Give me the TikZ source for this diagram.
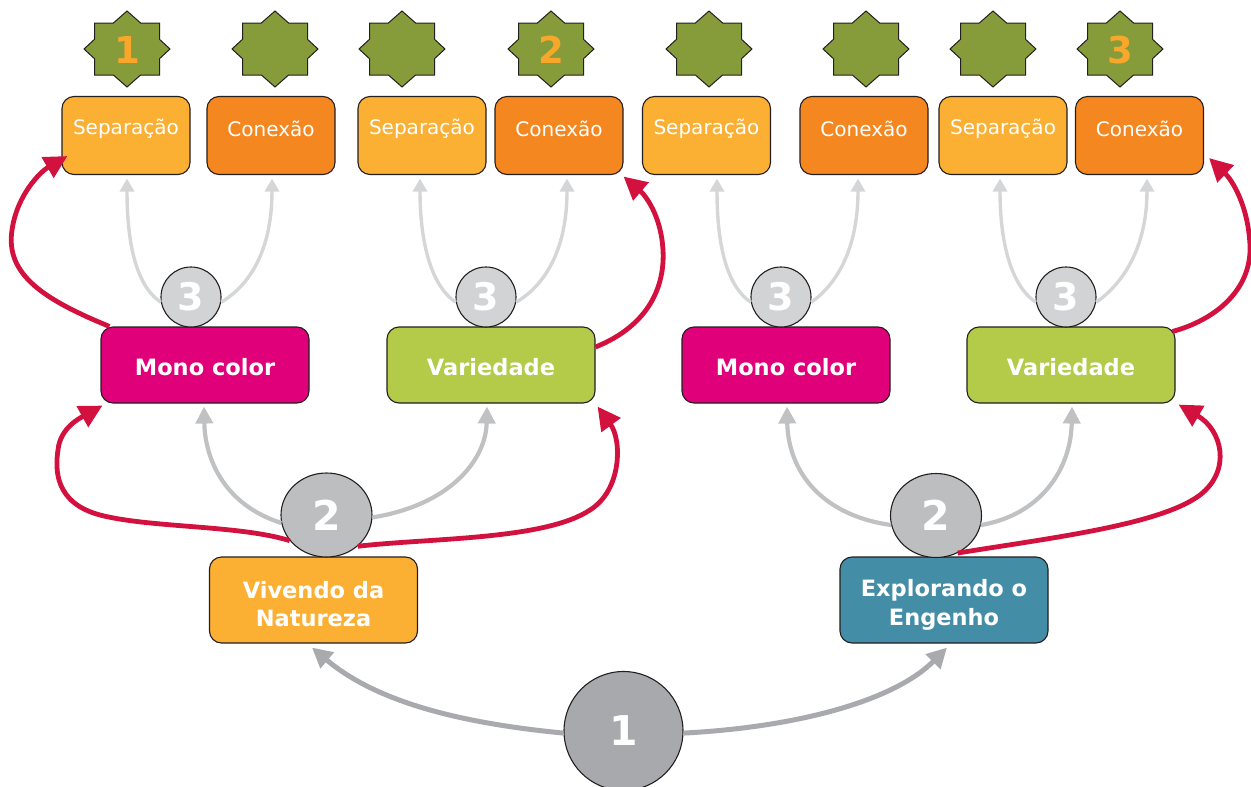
\documentclass[tikz,border=0pt]{standalone}
\usepackage{fontspec}
\setmainfont{DejaVu Sans}
\usetikzlibrary{shapes.geometric,arrows.meta,calc}
\definecolor{outl}{HTML}{231F20}
\definecolor{sepC}{HTML}{FBB034}
\definecolor{conC}{HTML}{F58720}
\definecolor{monoC}{HTML}{E0007A}
\definecolor{varC}{HTML}{B3CB48}
\definecolor{expC}{HTML}{448DA7}
\definecolor{starC}{HTML}{869C3A}
\definecolor{starNum}{HTML}{F9A72B}
\definecolor{cThree}{HTML}{D1D3D4}
\definecolor{cTwo}{HTML}{BCBEC0}
\definecolor{cOne}{HTML}{A7A9AC}
\definecolor{redC}{HTML}{D2113F}
\definecolor{grayA}{HTML}{A9AAAD}
\definecolor{grayB}{HTML}{C0C1C3}
\definecolor{grayC}{HTML}{D5D6D7}
\tikzset{
  box/.style={draw=outl, line width=1.1pt, rounded corners=12pt, inner sep=0pt},
  topbox/.style={box, minimum width=128pt, minimum height=78pt},
  toplbl/.style={text=white, font=\fontsize{20}{24}\selectfont},
  midbox/.style={box, minimum width=208pt, minimum height=76pt},
  midlbl/.style={text=white, font=\bfseries\fontsize{22.5}{26}\selectfont},
  botbox/.style={box, minimum width=208pt, minimum height=86pt},
  botlbl/.style={align=center, text=white, font=\bfseries\fontsize{22.5}{28.5}\selectfont},
  numc/.style={circle, draw=outl, line width=1.1pt, inner sep=0pt, text=white, font=\bfseries\fontsize{38}{40}\selectfont},
  cthree/.style={numc, fill=cThree, minimum size=60pt},
  ctwo/.style={ellipse, draw=outl, line width=1.1pt, inner sep=0pt, fill=cTwo, minimum width=91pt, minimum height=84pt, text=white, font=\bfseries\fontsize{41}{43}\selectfont},
  cone/.style={numc, fill=cOne, minimum size=119pt, font=\bfseries\fontsize{41}{43}\selectfont},
  stnum/.style={inner sep=0pt, text=starNum, font=\bfseries\fontsize{37}{40}\selectfont},
  redarr/.style={draw=redC, line width=4.8pt, -{Triangle[length=23pt,width=23pt]}},
  grayarrA/.style={draw=grayA, line width=5pt, -{Triangle[length=20pt,width=20pt]}},
  grayarrB/.style={draw=grayB, line width=4.2pt, -{Triangle[length=17pt,width=17pt]}},
  grayarrC/.style={draw=grayC, line width=3.4pt, -{Triangle[length=13pt,width=14pt]}},
  pics/octstar/.style={code={
    \filldraw[fill=starC, draw=outl, line width=1pt]
      (0,-38) -- (13.6,-26) -- (32.5,-26) -- (32.5,-9.7) -- (43,0) -- (32.5,9.7) -- (32.5,26) -- (13.6,26)
      -- (0,38) -- (-13.6,26) -- (-32.5,26) -- (-32.5,9.7) -- (-43,0) -- (-32.5,-9.7) -- (-32.5,-26) -- (-13.6,-26) -- cycle;
  }}
}
\begin{document}
\begin{tikzpicture}[x=1pt,y=-1pt]
\useasboundingbox (0,0) rectangle (1251,787);

% stars
\pic at (127,49) {octstar};
\pic at (275,49) {octstar};
\pic at (402,49) {octstar};
\pic at (551,49) {octstar};
\pic at (709,49) {octstar};
\pic at (866,49) {octstar};
\pic at (993,49) {octstar};
\pic at (1120,49) {octstar};
\node[stnum] (n1) at (127,50) {1};
\node[stnum] (n2) at (551,50) {2};
\node[stnum] (n3) at (1120,50) {3};

% top boxes
\node[topbox, fill=sepC, label={[toplbl, yshift=7pt]center:Separação}] (sep1) at (126,135.5) {};
\node[topbox, fill=conC, label={[toplbl, yshift=7pt]center:Conexão}] (con1) at (271,135.5) {};
\node[topbox, fill=sepC, label={[toplbl, yshift=7pt]center:Separação}] (sep2) at (422,135.5) {};
\node[topbox, fill=conC, label={[toplbl, yshift=7pt]center:Conexão}] (con2) at (559,135.5) {};
\node[topbox, fill=sepC, label={[toplbl, yshift=7pt]center:Separação}] (sep3) at (706.5,135.5) {};
\node[topbox, fill=conC, label={[toplbl, yshift=7pt]center:Conexão}] (con3) at (864,135.5) {};
\node[topbox, fill=sepC, label={[toplbl, yshift=7pt]center:Separação}] (sep4) at (1003,135.5) {};
\node[topbox, fill=conC, label={[toplbl, yshift=7pt]center:Conexão}] (con4) at (1139.5,135.5) {};

% middle boxes
\node[midbox, fill=monoC, label={[midlbl, yshift=-2pt]center:Mono color}] (mono1) at (205,365) {};
\node[midbox, fill=varC, label={[midlbl, yshift=-2pt]center:Variedade}] (var1) at (491,365) {};
\node[midbox, fill=monoC, label={[midlbl, yshift=-2pt]center:Mono color}] (mono2) at (786,365) {};
\node[midbox, fill=varC, label={[midlbl, yshift=-2pt]center:Variedade}] (var2) at (1071,365) {};

% circles 3
\node[cthree] (c3a) at (191,297) {3};
\node[cthree] (c3b) at (486,297) {3};
\node[cthree] (c3c) at (781,297) {3};
\node[cthree] (c3d) at (1066,297) {3};

% bottom boxes
\node[botbox, fill=sepC, label={[botlbl, yshift=-4pt]center:{Vivendo da\\Natureza}}] (viv) at (313.5,600) {};
\node[botbox, fill=expC, label={[botlbl, yshift=-5pt]center:{Explorando o\\Engenho}}] (exp) at (944,600) {};

% circles 2 and 1
\node[ctwo] (c2L) at (326.5,515) {2};
\node[ctwo] (c2R) at (936,515.5) {2};
\node[cone] (c1) at (623.5,731) {1};

% light connectors from circles 3
\draw[grayarrC] (c3a.190) .. controls (135,285) and (127,240) .. ($(sep1.south)+(1,3.5)$);
\draw[grayarrC] (c3a.-10) .. controls (250,285) and (272,250) .. ($(con1.south)+(1,3.5)$);
\draw[grayarrC] (c3b.190) .. controls (430,285) and (420,240) .. ($(sep2.south)+(-2,3.5)$);
\draw[grayarrC] (c3b.-10) .. controls (545,285) and (567,250) .. ($(con2.south)+(8,3.5)$);
\draw[grayarrC] (c3c.190) .. controls (725,285) and (717,240) .. ($(sep3.south)+(10.5,3.5)$);
\draw[grayarrC] (c3c.-10) .. controls (836,285) and (858,250) .. ($(con3.south)+(-6,3.5)$);
\draw[grayarrC] (c3d.190) .. controls (1010,285) and (1000,240) .. ($(sep4.south)+(-3,3.5)$);
\draw[grayarrC] (c3d.-10) .. controls (1121,285) and (1147,250) .. ($(con4.south)+(7.5,3.5)$);

% mid connectors from circles 2
\draw[grayarrB] (c2L.190) .. controls (225,505) and (205,460) .. ($(mono1.south)+(-1,3)$);
\draw[grayarrB] (c2L.-3) .. controls (450,505) and (486,460) .. ($(var1.south)+(-4,3)$);
\draw[grayarrB] (c2R.192) .. controls (820,515) and (788,470) .. ($(mono2.south)+(1,3)$);
\draw[grayarrB] (c2R.-12) .. controls (1040,515) and (1071,470) .. ($(var2.south)+(1,3)$);

% bottom connectors from circle 1
\draw[grayarrA] (c1.182) .. controls (470,724) and (380,705) .. ($(viv.south)+(-1.5,4)$);
\draw[grayarrA] (c1.-2) .. controls (800,727) and (895,700) .. ($(exp.south)+(3,4)$);

% red connectors
\draw[redarr] ([xshift=9pt]mono1.north west) .. controls (45,300) and (5,275) .. (12,230) .. controls (17,195) and (40,172) .. ($(sep1.south west)+(6,-19)$);
\draw[redarr] (c2L.215) .. controls (240,525) and (150,528) .. (100,515) .. controls (55,503) and (55,470) .. (58,450) .. controls (60,428) and (80,418) .. ($(mono1.south west)+(2,2)$);
\draw[redarr] (c2L.-45) .. controls (430,538) and (545,540) .. (590,510) .. controls (622,490) and (622,440) .. ($(var1.south east)+(2,3)$);
\draw[redarr] ([yshift=18pt]var1.east) .. controls (650,325) and (665,285) .. (663,250) .. controls (661,215) and (645,195) .. ($(con2.south east)+(0,1.5)$);
\draw[redarr] (c2R.-60) .. controls (1050,538) and (1160,525) .. (1200,495) .. controls (1232,470) and (1222,430) .. ($(var2.south east)+(3,1)$);
\draw[redarr] ([xshift=-3pt,yshift=-5pt]var2.north east) .. controls (1215,320) and (1252,290) .. (1250,245) .. controls (1248,205) and (1232,180) .. ($(con4.south east)+(5,-17)$);
\end{tikzpicture}
\end{document}
